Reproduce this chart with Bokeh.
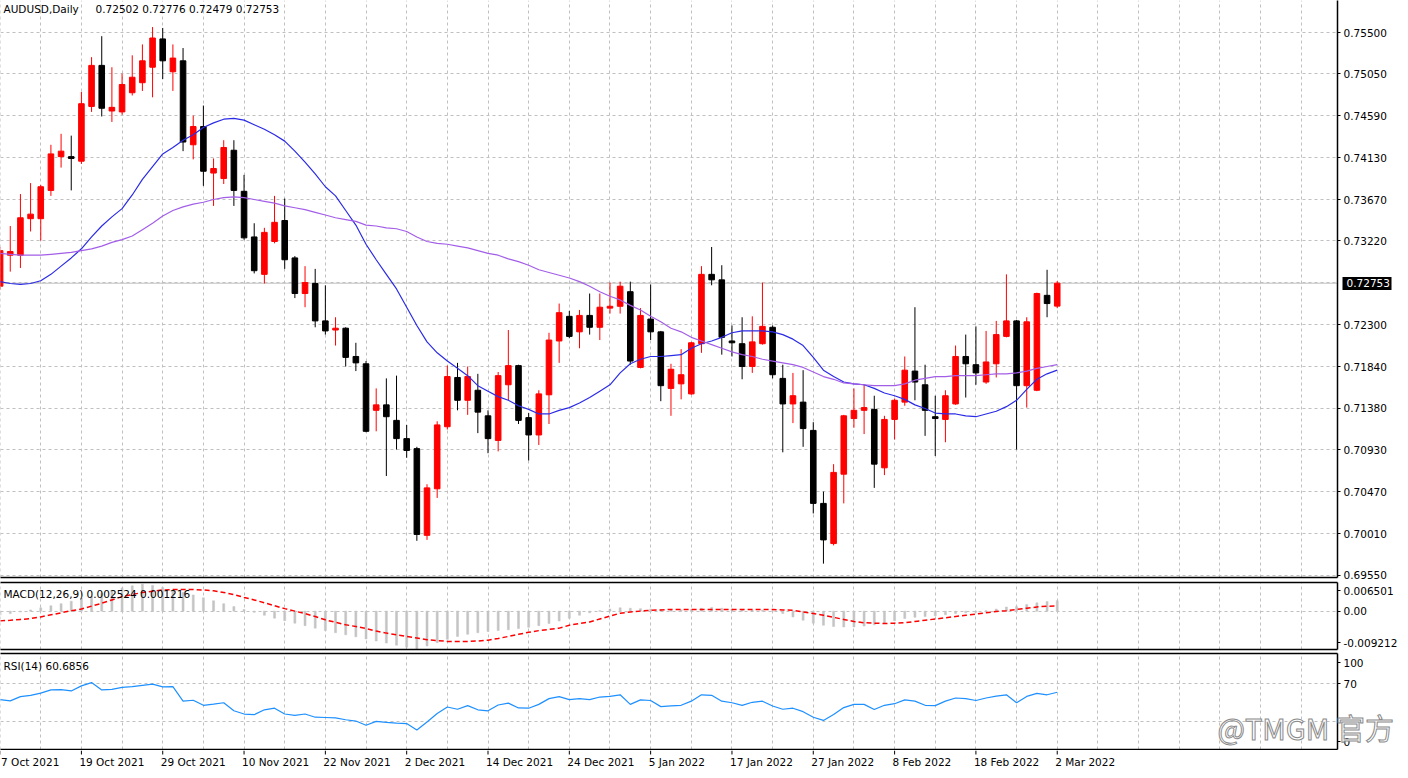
import pandas as pd
from bokeh.plotting import figure
from bokeh.layouts import column
from bokeh.models import (ColumnDataSource, Range1d, LinearAxis, FixedTicker, Span,
                          PrintfTickFormatter)
from bokeh.core.properties import value
from bokeh.embed import file_html
from bokeh.resources import INLINE

FONT = "DejaVu Sans"
FS = "10.5px"

symbol_title = "AUDUSD,Daily"
dates = pd.bdate_range("2021-10-07", "2022-03-02")

open_ = [0.7272, 0.7306, 0.7306, 0.7346, 0.7346, 0.7377, 0.7414, 0.7414, 0.7409, 0.7469,
         0.7514, 0.7464, 0.7463, 0.7484, 0.7495, 0.7512, 0.7543, 0.7507, 0.7519, 0.7427,
         0.7447, 0.7396, 0.7390, 0.7421, 0.7376, 0.7326, 0.7285, 0.7321, 0.7344, 0.7303,
         0.7264, 0.7275, 0.7234, 0.7224, 0.7226, 0.7195, 0.7187, 0.7136, 0.7142, 0.7125,
         0.7105, 0.7094, 0.6999, 0.7050, 0.7118, 0.7172, 0.7147, 0.7158, 0.7130, 0.7103,
         0.7164, 0.7185, 0.7128, 0.7109, 0.7153, 0.7212, 0.7239, 0.7222, 0.7240, 0.7227,
         0.7248, 0.7250, 0.7266, 0.7183, 0.7236, 0.7222, 0.7160, 0.7165, 0.7154, 0.7209,
         0.7285, 0.7279, 0.7212, 0.7209, 0.7184, 0.7209, 0.7227, 0.7171, 0.7143, 0.7145,
         0.7114, 0.7034, 0.6990, 0.7066, 0.7127, 0.7136, 0.7137, 0.7073, 0.7126, 0.7145,
         0.7179, 0.7164, 0.7129, 0.7126, 0.7143, 0.7195, 0.7186, 0.7167, 0.7187, 0.7217,
         0.7234, 0.7163, 0.7158, 0.7262, 0.72502]
high = [0.7315, 0.7338, 0.7373, 0.7385, 0.7383, 0.7427, 0.7439, 0.7437, 0.7485, 0.7523,
        0.7546, 0.7512, 0.7505, 0.7525, 0.7537, 0.7556, 0.7555, 0.7537, 0.7533, 0.7459,
        0.7470, 0.7412, 0.7432, 0.7432, 0.7394, 0.7341, 0.7336, 0.7371, 0.7368, 0.7305,
        0.7294, 0.7291, 0.7273, 0.7238, 0.7227, 0.7210, 0.7190, 0.7160, 0.7171, 0.7174,
        0.7120, 0.7096, 0.7055, 0.7124, 0.7185, 0.7188, 0.7184, 0.7176, 0.7136, 0.7178,
        0.7224, 0.7186, 0.7133, 0.7158, 0.7221, 0.7253, 0.7245, 0.7246, 0.7264, 0.7264,
        0.7276, 0.7277, 0.7277, 0.7248, 0.7274, 0.7223, 0.7187, 0.7203, 0.7211, 0.7294,
        0.7315, 0.7295, 0.7229, 0.7238, 0.7239, 0.7276, 0.7229, 0.7186, 0.7177, 0.7180,
        0.7123, 0.7047, 0.7077, 0.7131, 0.7160, 0.7164, 0.7152, 0.7130, 0.7149, 0.7195,
        0.7249, 0.7186, 0.7152, 0.7158, 0.7207, 0.7219, 0.7228, 0.7223, 0.7234, 0.7285,
        0.7235, 0.7238, 0.7265, 0.7290, 0.72776]
low = [0.7268, 0.7288, 0.7292, 0.7332, 0.7322, 0.7371, 0.7402, 0.7377, 0.7406, 0.7463,
       0.7458, 0.7452, 0.7460, 0.7481, 0.7486, 0.7479, 0.7499, 0.7486, 0.7420, 0.7411,
       0.7382, 0.7360, 0.7384, 0.7360, 0.7323, 0.7286, 0.7275, 0.7319, 0.7291, 0.7259,
       0.7249, 0.7227, 0.7219, 0.7207, 0.7184, 0.7179, 0.7112, 0.7113, 0.7064, 0.7093,
       0.7084, 0.6993, 0.6994, 0.7040, 0.7115, 0.7136, 0.7131, 0.7111, 0.7089, 0.7091,
       0.7147, 0.7121, 0.7081, 0.7098, 0.7121, 0.7188, 0.7215, 0.7204, 0.7219, 0.7213,
       0.7242, 0.7242, 0.7186, 0.7182, 0.7213, 0.7146, 0.7130, 0.7148, 0.7153, 0.7199,
       0.7273, 0.7197, 0.7195, 0.7170, 0.7177, 0.7208, 0.7171, 0.7090, 0.7122, 0.7096,
       0.7023, 0.6968, 0.6988, 0.7034, 0.7117, 0.7110, 0.7051, 0.7065, 0.7104, 0.7141,
       0.7147, 0.7108, 0.7086, 0.7101, 0.7142, 0.7150, 0.7164, 0.7165, 0.7172, 0.7216,
       0.7093, 0.7139, 0.7157, 0.7238, 0.72479]
close = [0.7311, 0.7310, 0.7347, 0.7351, 0.7381, 0.7417, 0.7420, 0.7412, 0.7472, 0.7514,
         0.7467, 0.7468, 0.7493, 0.7501, 0.7519, 0.7544, 0.7519, 0.7522, 0.7430, 0.7447,
         0.7398, 0.7401, 0.7424, 0.7377, 0.7325, 0.7289, 0.7331, 0.7342, 0.7301, 0.7264,
         0.7276, 0.7234, 0.7223, 0.7226, 0.7194, 0.7188, 0.7113, 0.7142, 0.7129, 0.7105,
         0.7092, 0.7000, 0.7051, 0.7120, 0.7173, 0.7147, 0.7173, 0.7134, 0.7105, 0.7174,
         0.7185, 0.7125, 0.7109, 0.7154, 0.7213, 0.7243, 0.7217, 0.7240, 0.7227, 0.7249,
         0.7250, 0.7272, 0.7190, 0.7240, 0.7222, 0.7163, 0.7181, 0.7175, 0.7210, 0.7285,
         0.7279, 0.7216, 0.7210, 0.7184, 0.7211, 0.7228, 0.7175, 0.7143, 0.7152, 0.7116,
         0.7034, 0.6994, 0.7068, 0.7130, 0.7136, 0.7139, 0.7077, 0.7126, 0.7147, 0.7180,
         0.7167, 0.7136, 0.7127, 0.7152, 0.7195, 0.7187, 0.7177, 0.7189, 0.7219, 0.7234,
         0.7163, 0.7233, 0.7264, 0.7253, 0.72753]

ma_fast = [0.7277, 0.7275, 0.7274, 0.7275, 0.7278, 0.7285, 0.7294, 0.7303, 0.7313, 0.7326,
           0.7338, 0.7348, 0.7357, 0.7372, 0.7389, 0.7403, 0.7417, 0.7424, 0.7432, 0.7438,
           0.7446, 0.7451, 0.7455, 0.7456, 0.7454, 0.7449, 0.7444, 0.7438, 0.7431, 0.7420,
           0.7408, 0.7395, 0.7381, 0.7371, 0.7355, 0.7339, 0.7318, 0.7301, 0.7285, 0.7269,
           0.7249, 0.7229, 0.7211, 0.7199, 0.7190, 0.7182, 0.7174, 0.7163, 0.7157, 0.7151,
           0.7147, 0.7141, 0.7137, 0.7132, 0.7132, 0.7136, 0.7139, 0.7144, 0.7150, 0.7157,
           0.7164, 0.7177, 0.7187, 0.7192, 0.7195, 0.7195, 0.7196, 0.7197, 0.7204, 0.7209,
           0.7212, 0.7216, 0.7221, 0.7223, 0.7223, 0.7223, 0.7222, 0.7219, 0.7214, 0.7207,
           0.7194, 0.7180, 0.7173, 0.7167, 0.7165, 0.7164, 0.7160, 0.7155, 0.7152, 0.7148,
           0.7142, 0.7138, 0.7133, 0.7132, 0.7132, 0.7130, 0.7129, 0.7132, 0.7135, 0.7140,
           0.7147, 0.7159, 0.7170, 0.7176, 0.7180]
ma_slow = [0.7308, 0.7307, 0.7306, 0.7306, 0.7306, 0.7307, 0.7308, 0.7309, 0.7311, 0.7313,
           0.7316, 0.7320, 0.7323, 0.7327, 0.7334, 0.7341, 0.7349, 0.7355, 0.7359, 0.7362,
           0.7364, 0.7367, 0.7369, 0.7370, 0.7369, 0.7367, 0.7365, 0.7363, 0.7360, 0.7358,
           0.7356, 0.7353, 0.7350, 0.7347, 0.7345, 0.7343, 0.7339, 0.7338, 0.7336, 0.7335,
           0.7332, 0.7326, 0.7321, 0.7319, 0.7318, 0.7316, 0.7314, 0.7311, 0.7308, 0.7306,
           0.7302, 0.7299, 0.7295, 0.7290, 0.7287, 0.7284, 0.7281, 0.7277, 0.7272, 0.7266,
           0.7261, 0.7257, 0.7251, 0.7246, 0.7239, 0.7233, 0.7226, 0.7222, 0.7216, 0.7212,
           0.7208, 0.7204, 0.7200, 0.7197, 0.7195, 0.7192, 0.7190, 0.7188, 0.7186, 0.7183,
           0.7178, 0.7173, 0.7170, 0.7166, 0.7165, 0.7164, 0.7163, 0.7163, 0.7163, 0.7165,
           0.7169, 0.7171, 0.7173, 0.7173, 0.7174, 0.7174, 0.7174, 0.7175, 0.7176, 0.7176,
           0.7177, 0.7179, 0.7182, 0.7184, 0.7186]

macd_main = [-0.0010, -0.0006, -0.0002, 0.0003, 0.0008, 0.0013, 0.0018, 0.0024, 0.0031, 0.0036,
             0.0043, 0.0050, 0.0056, 0.0061, 0.006501, 0.0062, 0.0057, 0.0051, 0.0045, 0.0039,
             0.0032, 0.0025, 0.0018, 0.0011, 0.0004, -0.0003, -0.0010, -0.0017, -0.0023, -0.0029,
             -0.0035, -0.0041, -0.0047, -0.0052, -0.0057, -0.0062, -0.0067, -0.0072, -0.0077, -0.0082,
             -0.0087, -0.009212, -0.0084, -0.0076, -0.0068, -0.0061, -0.0056, -0.0052, -0.0049, -0.0047,
             -0.0045, -0.0042, -0.0039, -0.0035, -0.0030, -0.0024, -0.0017, -0.0010, -0.0004, 0.0001,
             0.0005, 0.0008, 0.0007, 0.0006, 0.0005, 0.0004, 0.0003, 0.0003, 0.0004, 0.0007,
             0.0009, 0.0007, 0.0005, 0.0003, 0.0002, 0.0002, 0.0000, -0.0006, -0.0014, -0.0022,
             -0.0029, -0.0034, -0.0037, -0.0038, -0.0038, -0.0036, -0.0033, -0.0029, -0.0023, -0.0018,
             -0.0015, -0.0013, -0.0011, -0.0009, -0.0006, -0.0004, -0.0003, 0.0001, 0.0005, 0.0010,
             0.0011, 0.0016, 0.0020, 0.0023, 0.002524]
macd_signal = [-0.00235, -0.0022, -0.0020, -0.0018, -0.0014, -0.0009, -0.0004, 0.0001, 0.0005, 0.0012,
               0.0019, 0.0027, 0.0035, 0.0040, 0.0045, 0.0048, 0.0051, 0.0052, 0.0052, 0.0052,
               0.0051, 0.0049, 0.0045, 0.0040, 0.0033, 0.0027, 0.0020, 0.0013, 0.0006, 0.0000,
               -0.0006, -0.0013, -0.0021, -0.0027, -0.0033, -0.0037, -0.0042, -0.0048, -0.0053, -0.0057,
               -0.0061, -0.0065, -0.0069, -0.0071, -0.0073, -0.0073, -0.0073, -0.0072, -0.0070, -0.0066,
               -0.0061, -0.0056, -0.0051, -0.0047, -0.0044, -0.0041, -0.0034, -0.0030, -0.0026, -0.0019,
               -0.0012, -0.0005, -0.0002, 0.0000, 0.0002, 0.0003, 0.0004, 0.0004, 0.0004, 0.0004,
               0.0004, 0.0004, 0.0004, 0.0004, 0.0004, 0.0004, 0.0004, 0.0003, 0.0002, -0.0002,
               -0.0006, -0.0010, -0.0015, -0.0020, -0.0025, -0.0028, -0.0029, -0.0030, -0.0029, -0.0028,
               -0.0025, -0.0022, -0.0019, -0.0016, -0.0013, -0.0010, -0.0007, -0.0004, -0.0001, 0.0001,
               0.0004, 0.0007, 0.0010, 0.0012, 0.001216]

rsi = [52.9, 51.5, 56.0, 57.4, 59.7, 63.2, 63.6, 62.1, 67.5, 71.0,
       63.2, 63.8, 65.9, 66.6, 68.0, 69.3, 66.4, 66.6, 51.2, 52.2,
       46.8, 48.0, 49.5, 41.0, 37.5, 36.8, 42.0, 43.7, 37.5, 36.0,
       37.5, 34.1, 33.8, 33.4, 31.4, 30.0, 25.6, 29.7, 28.6, 27.8,
       27.3, 20.4, 29.0, 38.0, 45.0, 42.6, 46.4, 42.0, 40.9, 47.1,
       49.1, 44.0, 43.7, 47.8, 53.9, 56.0, 52.9, 53.9, 52.9, 55.6,
       56.3, 58.0, 47.8, 52.6, 51.9, 45.4, 46.1, 46.8, 51.2, 58.0,
       57.4, 51.2, 49.5, 46.8, 50.0, 51.2, 46.1, 42.6, 43.7, 40.0,
       34.1, 30.7, 37.0, 44.4, 47.8, 47.8, 42.3, 46.8, 48.5, 52.6,
       51.2, 46.8, 46.5, 51.2, 54.6, 53.9, 51.9, 54.6, 56.5, 58.0,
       49.5, 56.3, 59.5, 58.0, 60.6856]

price_ticks = [0.75500, 0.75050, 0.74590, 0.74130, 0.73670, 0.73220, 0.72300,
               0.71840, 0.71380, 0.70930, 0.70470, 0.70010, 0.69550]
hidden_price_tick = 0.72760
macd_labels = ["0.006501", "0.00", "-0.009212"]
rsi_labels = ["100", "70", "0"]
rsi_levels = [70, 30]
watermark = "@TMGM 官方"
watermark_level = 23.5

# ---------------------------------------------------------------------------
n = len(close)
xs = list(range(n))
label_step = 8
date_idx = list(range(0, n, label_step))
date_text = [f"{dates[i].day} {dates[i].strftime('%b %Y')}" for i in date_idx]

W = 1400
RIGHT = 61
BAR_PX = 10.18
x_start = 0.04
x_range = Range1d(x_start, x_start + (W - RIGHT) / BAR_PX)
grid_x = list(range(0, 133, 4))


def style_axis(ax):
    ax.axis_line_color = "black"
    ax.axis_line_width = 1.5
    ax.major_tick_line_color = "black"
    ax.major_tick_out = 3
    ax.major_tick_in = 0
    ax.minor_tick_line_color = None
    ax.major_label_text_font = FONT
    ax.major_label_text_font_size = FS
    ax.major_label_text_color = "black"
    ax.major_label_standoff = 3


def base_fig(height, y_range, top, bottom):
    p = figure(width=W, height=height, x_range=x_range, y_range=y_range,
               output_backend="svg", toolbar_location=None,
               x_axis_location=None, y_axis_location="right",
               min_border_left=0, min_border_right=RIGHT,
               min_border_top=top, min_border_bottom=bottom,
               background_fill_color="white", border_fill_color="white",
               outline_line_color=None)
    p.xgrid.ticker = FixedTicker(ticks=grid_x)
    p.grid.grid_line_color = "#c0c0c0"
    p.grid.grid_line_dash = "3 3"
    p.grid.grid_line_width = 1
    style_axis(p.yaxis[0])
    return p


def border(p, side):
    a = LinearAxis(ticker=FixedTicker(ticks=[]), axis_line_color="black",
                   axis_line_width=1.5, major_tick_line_color=None,
                   minor_tick_line_color=None, major_label_text_font_size="0px",
                   major_tick_out=0, major_tick_in=0, major_label_standoff=0)
    p.add_layout(a, side)


def panel_title(p, texts_offsets, y_off, baseline):
    for txt, xo in texts_offsets:
        p.text(x=[p.x_range.start], y=[p.y_range.end], text=[txt], x_offset=xo,
               y_offset=y_off, text_baseline=baseline, text_align="left",
               text_font=value(FONT), text_font_size=FS, text_color="black")


# ---------------- main price panel ----------------
main_range = Range1d(0.69528, 0.75851)
pm = base_fig(581, main_range, 0, 4)
pm.yaxis.ticker = FixedTicker(ticks=price_ticks)
pm.yaxis.formatter = PrintfTickFormatter(format="%.5f")
pm.ygrid.ticker = FixedTicker(ticks=sorted(price_ticks + [hidden_price_tick]))
border(pm, "below")

pm.add_layout(Span(location=close[-1], dimension="width", line_color="#c0c0c0",
                   line_width=1, level="underlay"))

colors = ["#ff0000" if c >= o else "#000000" for o, c in zip(open_, close)]
src = ColumnDataSource(dict(
    x=xs, high=high, low=low,
    top=[max(o, c) for o, c in zip(open_, close)],
    bottom=[min(o, c) for o, c in zip(open_, close)],
    color=colors))
pm.segment(x0="x", y0="low", x1="x", y1="high", line_color="color", line_width=1, source=src)
pm.vbar(x="x", top="top", bottom="bottom", width=0.55, fill_color="color",
        line_color="color", line_width=1, source=src)
pm.line(xs, ma_fast, line_color="#2b2be6", line_width=1.2)
pm.line(xs, ma_slow, line_color="#a35ee8", line_width=1.2)

panel_title(pm, [(symbol_title, 3),
                 (f"{open_[-1]:.5f} {high[-1]:.5f} {low[-1]:.5f} {close[-1]:.5f}", 95)],
            2, "top")

# current-price marker on the price scale (black box, white text)
price_box = LinearAxis(ticker=FixedTicker(ticks=[close[-1]]),
                       formatter=PrintfTickFormatter(format="%.5f"),
                       axis_line_color=None, major_tick_line_color="black",
                       major_tick_line_width=13, major_tick_in=47, major_tick_out=2,
                       minor_tick_line_color=None, major_label_standoff=-45,
                       major_label_text_font=FONT, major_label_text_font_size=FS,
                       major_label_text_color="white")
pm.add_layout(price_box, "right")

# ---------------- MACD panel ----------------
macd_hi, macd_lo = 0.00690, -0.00925
macd_h = 67
pmac = base_fig(70, Range1d(macd_lo, macd_hi), 1, 2)
macd_pos = [macd_hi - (macd_hi - macd_lo) * 8 / macd_h, 0.0,
            macd_lo + (macd_hi - macd_lo) * 7 / macd_h]
pmac.yaxis.ticker = FixedTicker(ticks=macd_pos)
pmac.yaxis.major_label_overrides = {v: s for v, s in zip(macd_pos, macd_labels)}
pmac.ygrid.ticker = FixedTicker(ticks=[0.0])
border(pmac, "above")
border(pmac, "below")
pmac.vbar(x=xs, top=macd_main, bottom=0, width=0.2, fill_color="#c4c4c4",
          line_color="#c4c4c4", line_width=0.5)
pmac.line(xs, macd_signal, line_color="#ff0000", line_width=1.5, line_dash="5 3")
panel_title(pmac, [(f"MACD(12,26,9) {macd_main[-1]:.6f} {macd_signal[-1]:.6f}", 3)],
            11, "middle")

# ---------------- RSI panel ----------------
rsi_hi, rsi_lo = 102.0, -0.3
rsi_h = 96
prsi = base_fig(99, Range1d(rsi_lo, rsi_hi), 2, 1)
rsi_pos = [rsi_hi - (rsi_hi - rsi_lo) * 9 / rsi_h, 70.0,
           rsi_lo + (rsi_hi - rsi_lo) * 8 / rsi_h]
prsi.yaxis.ticker = FixedTicker(ticks=rsi_pos)
prsi.yaxis.major_label_overrides = {v: s for v, s in zip(rsi_pos, rsi_labels)}
prsi.ygrid.ticker = FixedTicker(ticks=rsi_levels)
border(prsi, "above")
border(prsi, "below")
prsi.line(xs, rsi, line_color="#1e90ff", line_width=1.2)
panel_title(prsi, [(f"RSI(14) {rsi[-1]:.4f}", 3)], 12, "middle")

# watermark (drawn as a label of an extra, line-less scale so it may span the price scale)
wm = LinearAxis(ticker=FixedTicker(ticks=[watermark_level]),
                major_label_overrides={watermark_level: watermark},
                axis_line_color=None, major_tick_line_color=None,
                minor_tick_line_color=None, major_tick_in=0, major_tick_out=0,
                major_label_standoff=-149, major_label_text_font="Noto Sans CJK SC",
                major_label_text_font_size="29px", major_label_text_color="white")
try:
    wm.major_label_text_outline_color = "#8a8a8a"
except AttributeError:
    wm.major_label_text_color = "#bdbdbd"
prsi.add_layout(wm, "right")

# ---------------- date axis ----------------
DATE_H = 20
pdt = figure(width=W, height=DATE_H, x_range=x_range, y_range=Range1d(0, 1),
             output_backend="svg", toolbar_location=None,
             x_axis_location=None, y_axis_location=None,
             min_border_left=0, min_border_right=RIGHT, min_border_top=0,
             min_border_bottom=0, outline_line_color=None,
             background_fill_color="white", border_fill_color="white")
pdt.grid.visible = False
tick_len = 4 / DATE_H
pdt.segment(x0=date_idx, y0=[1.0] * len(date_idx), x1=date_idx,
            y1=[1.0 - tick_len] * len(date_idx), line_color="black", line_width=1)
date_offsets = [1 if i == 0 else -2 for i in date_idx]
pdt.text(x=date_idx, y=[0.42] * len(date_idx), text=date_text, x_offset=date_offsets,
         text_align="left", text_baseline="middle", text_font=value(FONT),
         text_font_size=FS, text_color="black")

layout = column(pm, pmac, prsi, pdt, spacing=0)
open("out.html", "w").write(file_html(layout, INLINE))
